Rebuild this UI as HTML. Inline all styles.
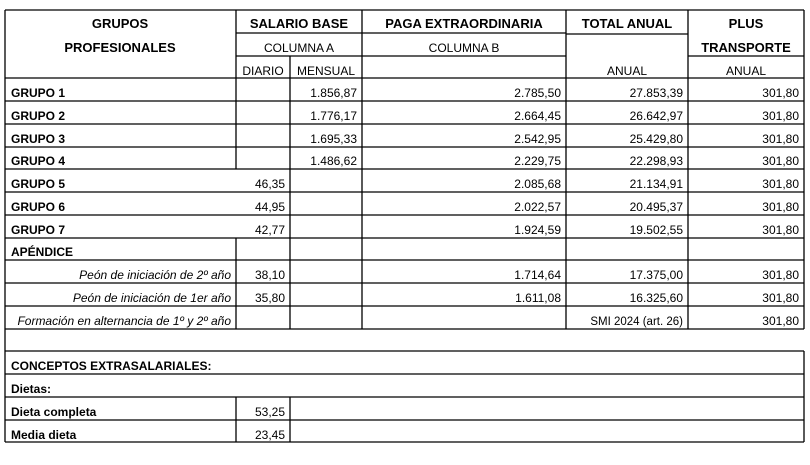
<!DOCTYPE html>
<html><head><meta charset="utf-8"><style>
html,body{margin:0;padding:0;background:#fff;width:810px;height:465px;overflow:hidden}
svg{display:block}
text{font-family:"Liberation Sans",Arial,sans-serif;fill:#000}
.h{font-weight:bold;font-size:13px}
.s{font-size:12px}
.b{font-weight:bold;font-size:12px}
.n{font-size:12px}
.i{font-style:italic;font-size:12px}
.r{text-anchor:end}.c{text-anchor:middle}
</style></head><body>
<svg width="810" height="465" viewBox="0 0 810 465" xmlns="http://www.w3.org/2000/svg">
<g stroke="#000" stroke-width="1.3" fill="none">
<line x1="5" y1="10" x2="804" y2="10"/>
<line x1="5" y1="10" x2="5" y2="442"/>
<line x1="804" y1="10" x2="804" y2="329"/>
<line x1="804" y1="351" x2="804" y2="442"/>
<line x1="236" y1="33" x2="566" y2="33"/>
<line x1="566" y1="34" x2="688" y2="34"/>
<line x1="236" y1="56" x2="566" y2="56"/>
<line x1="688" y1="56" x2="804" y2="56"/>
<line x1="290" y1="56" x2="290" y2="78"/>
<line x1="236" y1="10" x2="236" y2="169"/>
<line x1="236" y1="238" x2="236" y2="329"/>
<line x1="290" y1="78" x2="290" y2="329"/>
<line x1="362" y1="10" x2="362" y2="329"/>
<line x1="566" y1="10" x2="566" y2="329"/>
<line x1="688" y1="10" x2="688" y2="329"/>
<line x1="5" y1="78" x2="804" y2="78"/>
<line x1="5" y1="101" x2="804" y2="101"/>
<line x1="5" y1="124" x2="804" y2="124"/>
<line x1="5" y1="147" x2="804" y2="147"/>
<line x1="5" y1="169" x2="804" y2="169"/>
<line x1="5" y1="192" x2="804" y2="192"/>
<line x1="5" y1="215" x2="804" y2="215"/>
<line x1="5" y1="238" x2="804" y2="238"/>
<line x1="5" y1="260" x2="804" y2="260"/>
<line x1="5" y1="283" x2="804" y2="283"/>
<line x1="5" y1="306" x2="804" y2="306"/>
<line x1="5" y1="329" x2="804" y2="329"/>
<line x1="5" y1="351" x2="804" y2="351"/>
<line x1="5" y1="374" x2="804" y2="374"/>
<line x1="5" y1="397" x2="804" y2="397"/>
<line x1="5" y1="420" x2="804" y2="420"/>
<line x1="5" y1="442" x2="804" y2="442"/>
<line x1="236" y1="397" x2="236" y2="442"/>
<line x1="290" y1="397" x2="290" y2="442"/>
</g>
<text class="h c" x="120" y="28">GRUPOS</text>
<text class="h c" x="120" y="52">PROFESIONALES</text>
<text class="h c" x="299" y="28">SALARIO BASE</text>
<text class="s c" x="299" y="52">COLUMNA A</text>
<text class="s c" x="263" y="75">DIARIO</text>
<text class="s c" x="326" y="75">MENSUAL</text>
<text class="h c" x="464" y="28">PAGA EXTRAORDINARIA</text>
<text class="s c" x="464" y="52">COLUMNA B</text>
<text class="h c" x="627" y="28">TOTAL ANUAL</text>
<text class="s c" x="627" y="75">ANUAL</text>
<text class="h c" x="746" y="28">PLUS</text>
<text class="h c" x="746" y="52">TRANSPORTE</text>
<text class="s c" x="746" y="75">ANUAL</text>

<text class="b" x="11" y="97">GRUPO 1</text>
<text class="n r" x="357" y="97">1.856,87</text><text class="n r" x="561" y="97">2.785,50</text><text class="n r" x="683" y="97">27.853,39</text><text class="n r" x="799" y="97">301,80</text>
<text class="b" x="11" y="120">GRUPO 2</text>
<text class="n r" x="357" y="120">1.776,17</text><text class="n r" x="561" y="120">2.664,45</text><text class="n r" x="683" y="120">26.642,97</text><text class="n r" x="799" y="120">301,80</text>
<text class="b" x="11" y="143">GRUPO 3</text>
<text class="n r" x="357" y="143">1.695,33</text><text class="n r" x="561" y="143">2.542,95</text><text class="n r" x="683" y="143">25.429,80</text><text class="n r" x="799" y="143">301,80</text>
<text class="b" x="11" y="165">GRUPO 4</text>
<text class="n r" x="357" y="165">1.486,62</text><text class="n r" x="561" y="165">2.229,75</text><text class="n r" x="683" y="165">22.298,93</text><text class="n r" x="799" y="165">301,80</text>
<text class="b" x="11" y="188">GRUPO 5</text>
<text class="n r" x="285" y="188">46,35</text><text class="n r" x="561" y="188">2.085,68</text><text class="n r" x="683" y="188">21.134,91</text><text class="n r" x="799" y="188">301,80</text>
<text class="b" x="11" y="211">GRUPO 6</text>
<text class="n r" x="285" y="211">44,95</text><text class="n r" x="561" y="211">2.022,57</text><text class="n r" x="683" y="211">20.495,37</text><text class="n r" x="799" y="211">301,80</text>
<text class="b" x="11" y="234">GRUPO 7</text>
<text class="n r" x="285" y="234">42,77</text><text class="n r" x="561" y="234">1.924,59</text><text class="n r" x="683" y="234">19.502,55</text><text class="n r" x="799" y="234">301,80</text>
<text class="b" x="11" y="256">APÉNDICE</text>
<text class="i r" x="231" y="279">Peón de iniciación de 2º año</text>
<text class="n r" x="285" y="279">38,10</text><text class="n r" x="561" y="279">1.714,64</text><text class="n r" x="683" y="279">17.375,00</text><text class="n r" x="799" y="279">301,80</text>
<text class="i r" x="231" y="302">Peón de iniciación de 1er año</text>
<text class="n r" x="285" y="302">35,80</text><text class="n r" x="561" y="302">1.611,08</text><text class="n r" x="683" y="302">16.325,60</text><text class="n r" x="799" y="302">301,80</text>
<text class="i r" x="231" y="325">Formación en alternancia de 1º y 2º año</text>
<text class="n r" x="683" y="325" style="font-size:11.5px">SMI 2024 (art. 26)</text><text class="n r" x="799" y="325">301,80</text>
<text class="b" x="11" y="370">CONCEPTOS EXTRASALARIALES:</text>
<text class="b" x="11" y="393">Dietas:</text>
<text class="b" x="11" y="416">Dieta completa</text><text class="n r" x="285" y="416">53,25</text>
<text class="b" x="11" y="439">Media dieta</text><text class="n r" x="285" y="439">23,45</text>
</svg>
</body></html>
